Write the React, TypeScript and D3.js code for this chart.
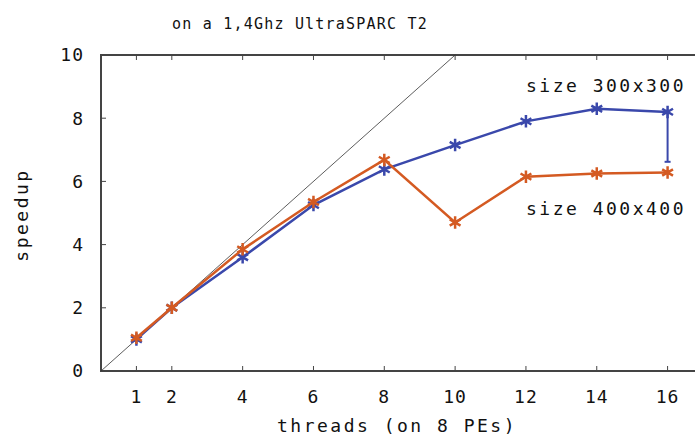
import React from "react";
import * as d3 from "d3";

const threads = [1, 2, 4, 6, 8, 10, 12, 14, 16];
const speedup300 = [1.0, 2.0, 3.6, 5.25, 6.38, 7.15, 7.9, 8.3, 8.2];
const speedup400 = [1.05, 2.0, 3.85, 5.35, 6.68, 4.7, 6.15, 6.25, 6.28];
const errBar300 = { x: 16, low: 6.62, high: 8.2 };
const idealLine = [0, 10];
const xTicks = [1, 2, 4, 6, 8, 10, 12, 14, 16];
const yTicks = [0, 2, 4, 6, 8, 10];

const W = 695;
const H = 439;
const FONT = "'DejaVu Sans Mono', monospace";
const BLUE = "#3a48ab";
const RED = "#d45a22";

export default function App() {
  const x = d3.scaleLinear().domain([0, 17]).range([101, 703]);
  const y = d3.scaleLinear().domain([0, 10]).range([371, 55]);
  const line = d3
    .line<[number, number]>()
    .x((d) => x(d[0]))
    .y((d) => y(d[1]));
  const sym = d3.symbol().type(d3.symbolAsterisk).size(110)();
  const s300: [number, number][] = threads.map((t, i) => [t, speedup300[i]]);
  const s400: [number, number][] = threads.map((t, i) => [t, speedup400[i]]);
  const ideal: [number, number][] = idealLine.map((v) => [v, v]);

  return (
    <svg
      width={W}
      height={H}
      style={{ position: "absolute", left: 0, top: 0, background: "#fff" }}
    >
      <text
        x={300}
        y={29}
        textAnchor="middle"
        fontFamily={FONT}
        fontSize={15}
        letterSpacing={1.2}
        fill="#111"
      >
        on a 1,4Ghz UltraSPARC T2
      </text>

      {/* frame */}
      <rect
        x={x(0)}
        y={y(10)}
        width={x(17) - x(0)}
        height={y(0) - y(10)}
        fill="none"
        stroke="#444"
        strokeWidth={2}
      />

      {/* x ticks */}
      {xTicks.map((t) => (
        <g key={"xt" + t}>
          <line x1={x(t)} x2={x(t)} y1={y(0)} y2={y(0) - 5} stroke="#444" strokeWidth={1} />
          <line x1={x(t)} x2={x(t)} y1={y(10)} y2={y(10) + 5} stroke="#444" strokeWidth={1} />
          <text
            x={x(t)}
            y={403}
            textAnchor="middle"
            fontFamily={FONT}
            fontSize={18}
            letterSpacing={1}
            fill="#111"
          >
            {t}
          </text>
        </g>
      ))}

      {/* y ticks */}
      {yTicks.map((t) => (
        <g key={"yt" + t}>
          <line x1={x(0)} x2={x(0) + 5} y1={y(t)} y2={y(t)} stroke="#444" strokeWidth={1} />
          <text
            x={84}
            y={y(t)}
            dy="0.36em"
            textAnchor="end"
            fontFamily={FONT}
            fontSize={18}
            letterSpacing={1}
            fill="#111"
          >
            {t}
          </text>
        </g>
      ))}

      <text
        x={397}
        y={432}
        textAnchor="middle"
        fontFamily={FONT}
        fontSize={18}
        letterSpacing={2.5}
        fill="#111"
      >
        threads (on 8 PEs)
      </text>
      <text
        transform={`translate(28,215) rotate(-90)`}
        textAnchor="middle"
        fontFamily={FONT}
        fontSize={18}
        letterSpacing={2.5}
        fill="#111"
      >
        speedup
      </text>

      {/* ideal line */}
      <path d={line(ideal) || ""} stroke="#333" strokeWidth={0.8} fill="none" />

      {/* 300x300 */}
      <path d={line(s300) || ""} stroke={BLUE} strokeWidth={2.5} fill="none" />
      <line
        x1={x(errBar300.x)}
        x2={x(errBar300.x)}
        y1={y(errBar300.low)}
        y2={y(errBar300.high)}
        stroke={BLUE}
        strokeWidth={2}
      />
      <line
        x1={x(errBar300.x) - 3}
        x2={x(errBar300.x) + 3}
        y1={y(errBar300.low)}
        y2={y(errBar300.low)}
        stroke={BLUE}
        strokeWidth={2}
      />
      {s300.map((d, i) => (
        <path
          key={"b" + i}
          d={sym || ""}
          transform={`translate(${x(d[0])},${y(d[1])})`}
          fill={BLUE}
          stroke={BLUE}
          strokeWidth={2.5}
        />
      ))}

      {/* 400x400 */}
      <path d={line(s400) || ""} stroke={RED} strokeWidth={2.5} fill="none" />
      {s400.map((d, i) => (
        <path
          key={"r" + i}
          d={sym || ""}
          transform={`translate(${x(d[0])},${y(d[1])})`}
          fill={RED}
          stroke={RED}
          strokeWidth={2.5}
        />
      ))}

      <text
        x={686}
        y={92}
        textAnchor="end"
        fontFamily={FONT}
        fontSize={18}
        letterSpacing={2.5}
        fill="#111"
      >
        size 300x300
      </text>
      <text
        x={686}
        y={215}
        textAnchor="end"
        fontFamily={FONT}
        fontSize={18}
        letterSpacing={2.5}
        fill="#111"
      >
        size 400x400
      </text>
    </svg>
  );
}
